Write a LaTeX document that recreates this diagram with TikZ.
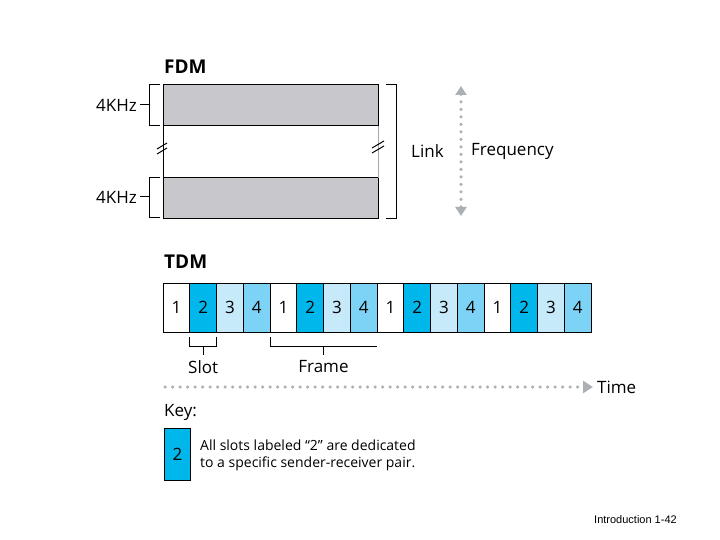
\documentclass[tikz,border=0pt]{standalone}
\usepackage{fontspec}
\setmainfont{Open Sans}
\newfontfamily\footfont{Liberation Sans}
\usetikzlibrary{arrows.meta, positioning, calc}

\definecolor{bandgray}{RGB}{200,200,204}
\definecolor{dotgray}{RGB}{172,176,180}
\definecolor{slotcyan}{RGB}{0,183,235}
\definecolor{slotpale}{RGB}{198,234,250}
\definecolor{slotmid}{RGB}{125,211,245}

\begin{document}
\begin{tikzpicture}[
    x=1pt, y=-1pt,
    node distance=0pt,
    title/.style={font=\fontsize{19}{21}\selectfont\bfseries, anchor=west, inner sep=0pt},
    lbl/.style={font=\fontsize{17}{20}\selectfont, inner sep=0pt},
    band/.style={rectangle, minimum width=215pt, minimum height=41pt, inner sep=0pt, outer sep=0pt, fill=bandgray, draw=black, line width=1pt},
    cell/.style={rectangle, minimum width=26.75pt, minimum height=49pt, inner sep=0pt, outer sep=0pt, draw=black, line width=1pt, font=\fontsize{17}{19}\selectfont},
    slotone/.style={cell, fill=white},
    slottwo/.style={cell, fill=slotcyan},
    slotthree/.style={cell, fill=slotpale},
    slotfour/.style={cell, fill=slotmid},
    bracket/.style={draw=black, line width=1pt},
    dotarrow/.style={draw=dotgray, line width=3.5pt, line cap=round, dash pattern=on 0pt off 7.5pt}
]
\useasboundingbox (0,0) rectangle (720,540);

% FDM
\node (fdmtitle) [title] at (164,67) {FDM};
\node (bandhi) [band, anchor=north west] at (163,85) {};
\node (bandlo) [band, anchor=north west] at (163,178) {};
\node (khzhi) [lbl, anchor=east] at (137,105) {4KHz};
\node (khzlo) [lbl, anchor=east] at (137,197) {4KHz};
\node (link) [lbl, anchor=west] at (411,151) {Link};
\node (freq) [lbl, anchor=west] at (471,151) {Frequency};
\coordinate (ftop) at (461,86);
\coordinate (fbot) at (461,216);

% link edges with break marks
\draw [bracket] (bandhi.south west) -- (bandlo.north west);
\draw [draw=black!35, line width=1pt] (bandhi.south east) -- (bandlo.north east);
\draw [bracket] (157,149) -- (167,143) (157,154) -- (167,148);
\draw [bracket] (372,148) -- (384,141) (372,153) -- (384,146);

% brackets
\draw [bracket] ([xshift=-3pt]bandhi.north west) -- ++(-11,0) -- ++(0,41) -- ++(11,0);
\draw [bracket] ([xshift=-3pt]bandlo.north west) -- ++(-11,0) -- ++(0,40) -- ++(11,0);
\draw [bracket] (khzhi.east) ++(3,0) -- ++(9,0);
\draw [bracket] (khzlo.east) ++(3,0) -- ++(9,0);
\draw [bracket] ([xshift=8pt]bandhi.north east) -- ++(10,0) |- ([xshift=8pt]bandlo.south east);
\draw [dotarrow, {Triangle[length=9pt, width=11pt]}-{Triangle[length=9pt, width=11pt]}] (ftop) -- (fbot);

% TDM
\node (tdmtitle) [title] at (164,262) {TDM};
\node (c1) [slotone, anchor=west] at (163,307.5) {1};
\node (c2) [slottwo, right=of c1] {2};
\node (c3) [slotthree, right=of c2] {3};
\node (c4) [slotfour, right=of c3] {4};
\node (c5) [slotone, right=of c4] {1};
\node (c6) [slottwo, right=of c5] {2};
\node (c7) [slotthree, right=of c6] {3};
\node (c8) [slotfour, right=of c7] {4};
\node (c9) [slotone, right=of c8] {1};
\node (c10) [slottwo, right=of c9] {2};
\node (c11) [slotthree, right=of c10] {3};
\node (c12) [slotfour, right=of c11] {4};
\node (c13) [slotone, right=of c12] {1};
\node (c14) [slottwo, right=of c13] {2};
\node (c15) [slotthree, right=of c14] {3};
\node (c16) [slotfour, right=of c15] {4};

% slot and frame brackets
\draw [bracket] ($(c2.south west)+(0,5)$) -- ++(0,9) -- ($(c2.south east)+(0,14)$) -- ++(0,-9);
\draw [bracket] ($(c2.south)+(0,14)$) -- ++(0,9) coordinate (slottick);
\node (slot) [lbl, below=5pt of slottick] {Slot};
\draw [bracket] ($(c5.south west)+(0,5)$) -- ++(0,9) -- ($(c8.south east)+(0,14)$);
\draw [bracket] ($(c5.south east)!0.5!(c8.south west)+(0,14)$) -- ++(0,9) coordinate (frametick);
\node (frame) [lbl, below=5pt of frametick] {Frame};

% time axis
\coordinate (tstart) at (165,387);
\node (time) [lbl, anchor=west] at (597,387) {Time};
\draw [dotarrow, -{Triangle[length=10pt, width=12pt]}] (tstart) -- ([xshift=-4pt]time.west);

% key
\node (key) [title, font=\fontsize{17}{20}\selectfont] at (164,412) {Key:};
\node (keybox) [slottwo, minimum height=52pt, anchor=north west] at (164,428) {2};
\node (keytext) [anchor=west, align=left, inner sep=0pt, font=\fontsize{14}{17}\selectfont] at (200,455)
    {All slots labeled “2” are dedicated\\to a specific sender-receiver pair.};

% footer
\node (footer) [anchor=west, inner sep=0pt, font=\footfont\fontsize{11}{13}\selectfont] at (594,520) {Introduction 1-42};

\end{tikzpicture}
\end{document}
